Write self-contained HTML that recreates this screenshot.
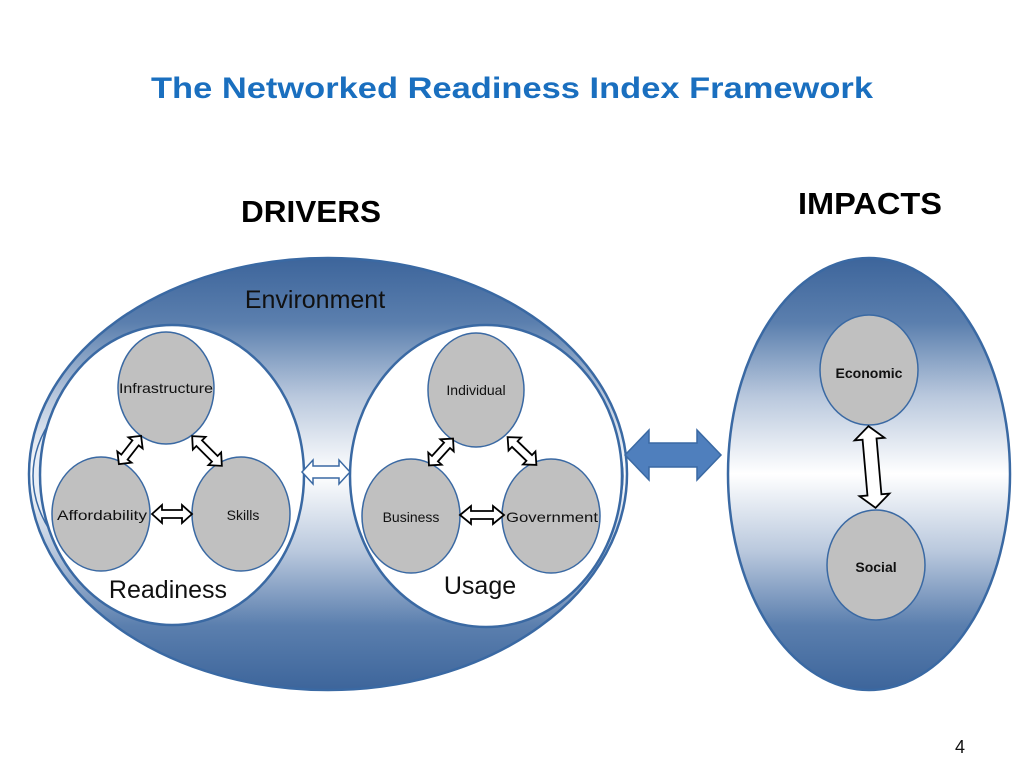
<!DOCTYPE html>
<html><head><meta charset="utf-8"><style>
html,body{margin:0;padding:0;background:#fff;}
svg{display:block;}
</style></head><body>
<svg width="1024" height="768" viewBox="0 0 1024 768" xmlns="http://www.w3.org/2000/svg">
<defs>
<linearGradient id="g" x1="0" y1="0" x2="0" y2="1">
<stop offset="0" stop-color="#3d659b"/>
<stop offset="0.15" stop-color="#5b7fae"/>
<stop offset="0.32" stop-color="#b9c8dd"/>
<stop offset="0.5" stop-color="#ffffff"/>
<stop offset="0.68" stop-color="#b9c8dd"/>
<stop offset="0.85" stop-color="#5b7fae"/>
<stop offset="1" stop-color="#3d659b"/>
</linearGradient>
<clipPath id="sides"><rect x="0" y="0" width="70" height="768"/><rect x="588" y="0" width="60" height="768"/></clipPath>
</defs>
<text x="512" y="98" text-anchor="middle" font-family="Liberation Sans, sans-serif" font-weight="bold" font-size="30" fill="#1a6fbf" textLength="722" lengthAdjust="spacingAndGlyphs">The Networked Readiness Index Framework</text>
<text x="311" y="222" text-anchor="middle" font-family="Liberation Sans, sans-serif" font-weight="bold" font-size="31" fill="#000" textLength="140" lengthAdjust="spacingAndGlyphs">DRIVERS</text>
<text x="870" y="214" text-anchor="middle" font-family="Liberation Sans, sans-serif" font-weight="bold" font-size="31" fill="#000" textLength="144" lengthAdjust="spacingAndGlyphs">IMPACTS</text>

<!-- Drivers ellipse -->
<ellipse cx="328" cy="474" rx="299" ry="216" fill="url(#g)" stroke="#3a69a3" stroke-width="2.5"/>
<g clip-path="url(#sides)">
<ellipse cx="328" cy="476" rx="292" ry="160" fill="none" stroke="#e8eef6" stroke-width="5"/>
<ellipse cx="328" cy="476" rx="295" ry="163" fill="none" stroke="#3a69a3" stroke-width="1.5"/>
</g>
<text x="315" y="308" text-anchor="middle" font-family="Liberation Sans, sans-serif" font-size="25" fill="#111">Environment</text>

<ellipse cx="172" cy="475" rx="132" ry="150" fill="#fff" stroke="#3a69a3" stroke-width="2.5"/>
<ellipse cx="486" cy="476" rx="136" ry="151" fill="#fff" stroke="#3a69a3" stroke-width="2.5"/>

<g fill="#c0c0c0" stroke="#3a69a3" stroke-width="1.5">
<ellipse cx="166" cy="388" rx="48" ry="56"/>
<ellipse cx="101" cy="514" rx="49" ry="57"/>
<ellipse cx="241" cy="514" rx="49" ry="57"/>
<ellipse cx="476" cy="390" rx="48" ry="57"/>
<ellipse cx="411" cy="516" rx="49" ry="57"/>
<ellipse cx="551" cy="516" rx="49" ry="57"/>
</g>
<g font-family="Liberation Sans, sans-serif" font-size="14" fill="#111" text-anchor="middle">
<text x="166" y="393" textLength="94" lengthAdjust="spacingAndGlyphs">Infrastructure</text>
<text x="102" y="520" textLength="90" lengthAdjust="spacingAndGlyphs">Affordability</text>
<text x="243" y="520">Skills</text>
<text x="476" y="395">Individual</text>
<text x="411" y="522">Business</text>
<text x="552" y="522" textLength="92" lengthAdjust="spacingAndGlyphs">Government</text>
</g>
<text x="168" y="598" text-anchor="middle" font-family="Liberation Sans, sans-serif" font-size="25" fill="#111">Readiness</text>
<text x="480" y="594" text-anchor="middle" font-family="Liberation Sans, sans-serif" font-size="25" fill="#111">Usage</text>

<g fill="#fff" stroke="#000" stroke-width="1.8">
<polygon transform="translate(130,450) rotate(-52)" points="-18,0 -9,-9 -9,-4 9,-4 9,-9 18,0 9,9 9,4 -9,4 -9,9"/>
<polygon transform="translate(207,451) rotate(45)" points="-21,0 -11,-9 -11,-4 11,-4 11,-9 21,0 11,9 11,4 -11,4 -11,9"/>
<polygon transform="translate(172,514)" points="-20,0 -10,-9 -10,-4 10,-4 10,-9 20,0 10,9 10,4 -10,4 -10,9"/>
<polygon transform="translate(441,452) rotate(-48)" points="-18,0 -9,-9 -9,-4 9,-4 9,-9 18,0 9,9 9,4 -9,4 -9,9"/>
<polygon transform="translate(522,451) rotate(44)" points="-20,0 -10,-9 -10,-4 10,-4 10,-9 20,0 10,9 10,4 -10,4 -10,9"/>
<polygon transform="translate(482,515)" points="-22,0 -11,-9 -11,-4 11,-4 11,-9 22,0 11,9 11,4 -11,4 -11,9"/>
</g>
<polygon transform="translate(326,472)" fill="#fff" stroke="#3a69a3" stroke-width="1.5" points="-24,0 -13,-12 -13,-6 13,-6 13,-12 24,0 13,12 13,6 -13,6 -13,12"/>

<polygon transform="translate(673,455)" fill="#4f7fbd" stroke="#3a69a3" stroke-width="1.5" points="-48,0 -24,-25 -24,-12 24,-12 24,-25 48,0 24,25 24,12 -24,12 -24,25"/>

<ellipse cx="869" cy="474" rx="141" ry="216" fill="url(#g)" stroke="#3a69a3" stroke-width="2.5"/>
<ellipse cx="869" cy="370" rx="49" ry="55" fill="#c0c0c0" stroke="#3a69a3" stroke-width="1.5"/>
<ellipse cx="876" cy="565" rx="49" ry="55" fill="#c0c0c0" stroke="#3a69a3" stroke-width="1.5"/>
<text x="869" y="378" text-anchor="middle" font-family="Liberation Sans, sans-serif" font-weight="bold" font-size="14" fill="#111">Economic</text>
<text x="876" y="572" text-anchor="middle" font-family="Liberation Sans, sans-serif" font-weight="bold" font-size="14" fill="#111">Social</text>
<polygon transform="translate(872,467) rotate(85)" fill="#fff" stroke="#000" stroke-width="1.8" points="-41,0 -28,-15 -28,-7 28,-7 28,-15 41,0 28,15 28,7 -28,7 -28,15"/>

<text x="960" y="753" text-anchor="middle" font-family="Liberation Sans, sans-serif" font-size="18" fill="#111">4</text>
</svg>
</body></html>
